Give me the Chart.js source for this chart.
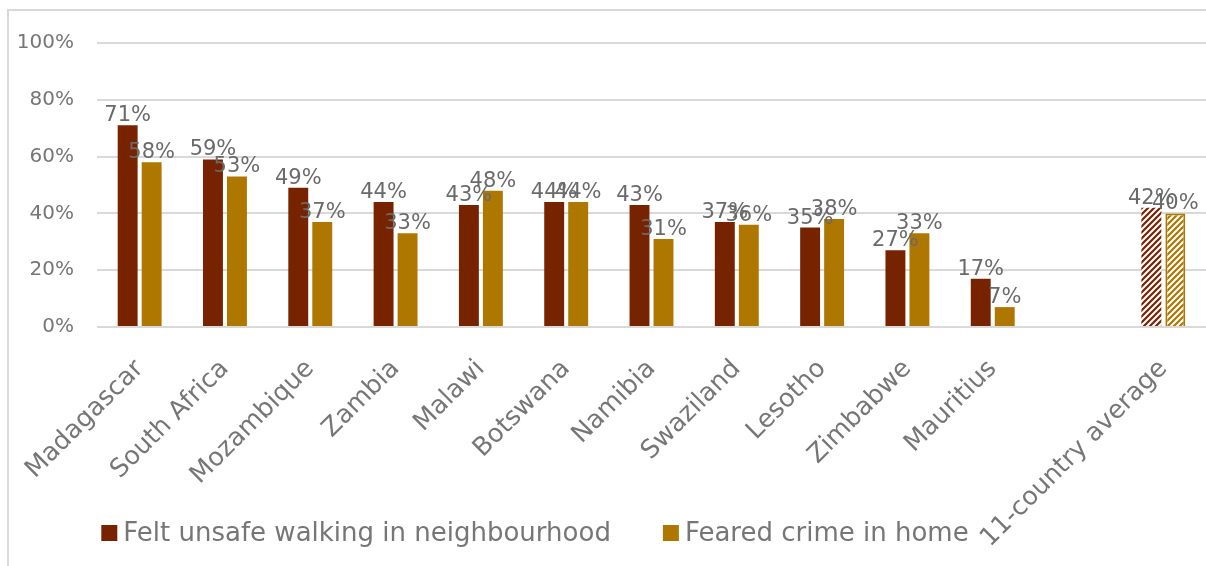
<!DOCTYPE html>
<html>
<head>
<meta charset="utf-8">
<script src="https://cdn.jsdelivr.net/npm/chart.js@4.4.1/dist/chart.umd.min.js"></script>
<style>
    html, body { margin: 0; padding: 0; background: #fff; overflow: hidden; width: 1206px; height: 566px; }
    #frame { position: absolute; left: 7px; top: 9px; right: 0; bottom: 0;
             border-left: 2px solid #d9d9d9; border-top: 2px solid #d9d9d9; }
    #wrap { position: absolute; left: 0; top: 0; width: 1206px; height: 566px; }
</style>
</head>
<body>
<div id="frame"></div>
<div id="wrap"><canvas id="crimeChart"></canvas></div>
<script>
const categories = ['Madagascar', 'South Africa', 'Mozambique', 'Zambia', 'Malawi', 'Botswana',
    'Namibia', 'Swaziland', 'Lesotho', 'Zimbabwe', 'Mauritius', '', '11-country average'];
const unsafeWalking = [71, 59, 49, 44, 43, 44, 43, 37, 35, 27, 17, null, 42];
const fearedCrime = [58, 53, 37, 33, 48, 44, 31, 36, 38, 33, 7, null, 40];
const seriesNames = ['Felt unsafe walking in neighbourhood', 'Feared crime in home'];

const MAROON = '#772300';
const GOLD = '#ad7700';
const AVG_INDEX = categories.length - 1;
const FONT = '"DejaVu Sans", sans-serif';
const TEXT = '#767676';

Chart.defaults.font.family = FONT;
Chart.defaults.color = TEXT;

// striped fill used for the average bars
function hatch(color) {
    const size = 6;
    const tile = document.createElement('canvas');
    tile.width = size;
    tile.height = size;
    const g = tile.getContext('2d');
    g.fillStyle = '#fff';
    g.fillRect(0, 0, size, size);
    g.strokeStyle = color;
    g.lineWidth = 2.2;
    g.beginPath();
    g.moveTo(-1, size + 1); g.lineTo(size + 1, -1);
    g.moveTo(-1, 1); g.lineTo(1, -1);
    g.moveTo(size - 1, size + 1); g.lineTo(size + 1, size - 1);
    g.stroke();
    return g.createPattern(tile, 'repeat');
}

function fills(color) {
    return categories.map((_, i) => (i === AVG_INDEX ? hatch(color) : color));
}

const barLabels = {
    id: 'barLabels',
    afterDatasetsDraw(chart) {
        const { ctx } = chart;
        ctx.save();
        ctx.font = `21px ${FONT}`;
        ctx.fillStyle = '#6a6a6a';
        ctx.textAlign = 'center';
        ctx.textBaseline = 'alphabetic';
        chart.data.datasets.forEach((ds, i) => {
            chart.getDatasetMeta(i).data.forEach((bar, j) => {
                const v = ds.data[j];
                if (v == null) {
                    return;
                }
                ctx.fillText(`${v}%`, bar.x, bar.y - 4);
            });
        });
        ctx.restore();
    },
};

const bottomLegend = {
    id: 'bottomLegend',
    afterDraw(chart) {
        const { ctx } = chart;
        ctx.save();
        ctx.font = `26px ${FONT}`;
        const box = 16;
        const gap = 6;
        const between = 52;
        const cy = 533;
        const centre = 535;
        const items = chart.data.datasets.map((ds) => ({ text: ds.label, color: ds.legendColor }));
        const widths = items.map((it) => box + gap + ctx.measureText(it.text).width);
        const total = widths.reduce((a, b) => a + b, 0) + between * (items.length - 1);
        let x = centre - total / 2;
        ctx.textBaseline = 'middle';
        items.forEach((it, i) => {
            ctx.fillStyle = it.color;
            ctx.fillRect(x, cy - box / 2, box, box);
            ctx.fillStyle = TEXT;
            ctx.fillText(it.text, x + box + gap, cy + 1);
            x += widths[i] + between;
        });
        ctx.restore();
    },
};

new Chart(document.getElementById('crimeChart'), {
    type: 'bar',
    data: {
        labels: categories,
        datasets: [
            {
                label: seriesNames[0],
                data: unsafeWalking,
                backgroundColor: fills(MAROON),
                legendColor: MAROON,
                borderWidth: 0,
            },
            {
                label: seriesNames[1],
                data: fearedCrime,
                backgroundColor: fills(GOLD),
                legendColor: GOLD,
                borderColor: GOLD,
                borderWidth: (c) => (c.dataIndex === AVG_INDEX ? 2 : 0),
            },
        ],
    },
    plugins: [barLabels, bottomLegend],
    options: {
        responsive: true,
        maintainAspectRatio: false,
        animation: false,
        categoryPercentage: 0.5625,
        barPercentage: 0.83,
        layout: {
            padding: { top: 43, right: 0, bottom: 0, left: 0 },
        },
        plugins: {
            legend: { display: false },
            tooltip: { enabled: false },
        },
        scales: {
            x: {
                grid: { display: false },
                border: { display: false },
                afterFit(scale) {
                    scale.height = 239;
                },
                ticks: {
                    autoSkip: false,
                    maxRotation: 45,
                    minRotation: 45,
                    padding: 19,
                    color: TEXT,
                    font: { size: 25.5 },
                },
            },
            y: {
                min: 0,
                max: 100,
                afterFit(scale) {
                    scale.width = 97;
                },
                border: { display: false },
                grid: {
                    color: '#d9d9d9',
                    lineWidth: 2,
                    drawTicks: false,
                },
                ticks: {
                    stepSize: 20,
                    padding: 23,
                    color: TEXT,
                    font: { size: 20 },
                    callback: (v) => `${v}%`,
                },
            },
        },
    },
});
</script>
</body>
</html>
